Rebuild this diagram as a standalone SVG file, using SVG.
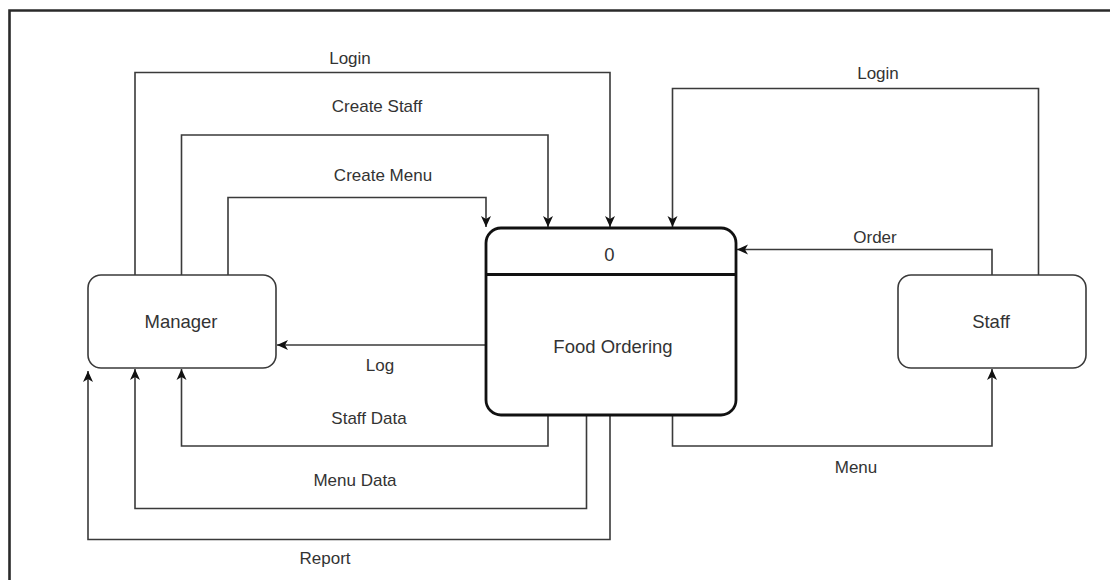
<svg xmlns="http://www.w3.org/2000/svg" width="1110" height="580" viewBox="0 0 1110 580">
  <style>
    .entity { fill: #ffffff; stroke: #3a3a3a; stroke-width: 1.6; }
    .process { fill: #ffffff; stroke: #111111; stroke-width: 2.8; }
    .flow { fill: none; stroke: #3a3a3a; stroke-width: 1.6; }
    .frame { fill: none; stroke: #2a2a2a; stroke-width: 2.6; }
    .node-text { font-family: "Liberation Sans", Arial, sans-serif; font-size: 18.5px; fill: #333333; text-anchor: middle; }
    .label { font-family: "Liberation Sans", Arial, sans-serif; font-size: 17px; fill: #333333; text-anchor: middle; }
  </style>
  <defs>
    <marker id="arrow" markerUnits="userSpaceOnUse" markerWidth="14" markerHeight="12" refX="11" refY="6" orient="auto">
      <path d="M0,1 L11,6 L0,11 L3,6 Z" fill="#111111"/>
    </marker>
  </defs>

  <rect width="1110" height="580" fill="#ffffff"/>

  <!-- outer frame (top and left edges) -->
  <path class="frame" d="M1110,10.5 H9.5 V580"/>

  <!-- data flows -->
  <g id="connectors">
    <path class="flow" d="M135,275 V72.5 H610 V227" marker-end="url(#arrow)"/>
    <path class="flow" d="M181.5,275 V135 H548 V227" marker-end="url(#arrow)"/>
    <path class="flow" d="M228,275 V197.5 H486 V227" marker-end="url(#arrow)"/>
    <path class="flow" d="M1038.5,275 V88.5 H672.5 V227" marker-end="url(#arrow)"/>
    <path class="flow" d="M992,275 V249.5 H737" marker-end="url(#arrow)"/>
    <path class="flow" d="M486,345 H277" marker-end="url(#arrow)"/>
    <path class="flow" d="M548,415 V446 H181.5 V369" marker-end="url(#arrow)"/>
    <path class="flow" d="M586.5,415 V508.5 H135 V369" marker-end="url(#arrow)"/>
    <path class="flow" d="M610,415 V539.5 H88 V371" marker-end="url(#arrow)"/>
    <path class="flow" d="M672.5,415 V446 H992 V369" marker-end="url(#arrow)"/>

    <text class="label" x="350" y="64">Login</text>
    <text class="label" x="377" y="112">Create Staff</text>
    <text class="label" x="383" y="181">Create Menu</text>
    <text class="label" x="878" y="79">Login</text>
    <text class="label" x="875" y="243">Order</text>
    <text class="label" x="380" y="371">Log</text>
    <text class="label" x="369" y="424">Staff Data</text>
    <text class="label" x="355" y="486">Menu Data</text>
    <text class="label" x="325" y="564">Report</text>
    <text class="label" x="856" y="473">Menu</text>
  </g>

  <g id="manager">
    <rect class="entity" x="88" y="275" width="188" height="93" rx="13" ry="13"/>
    <text class="node-text" x="181" y="328">Manager</text>
  </g>

  <g id="food-ordering">
    <rect class="process" x="486" y="228" width="250" height="187" rx="15" ry="15"/>
    <line x1="486" y1="274.5" x2="736" y2="274.5" stroke="#111111" stroke-width="2.8"/>
    <text class="node-text" x="609.5" y="260.5">0</text>
    <text class="node-text" x="613" y="353">Food Ordering</text>
  </g>

  <g id="staff">
    <rect class="entity" x="898" y="275" width="188" height="93" rx="13" ry="13"/>
    <text class="node-text" x="991" y="328">Staff</text>
  </g>
</svg>
